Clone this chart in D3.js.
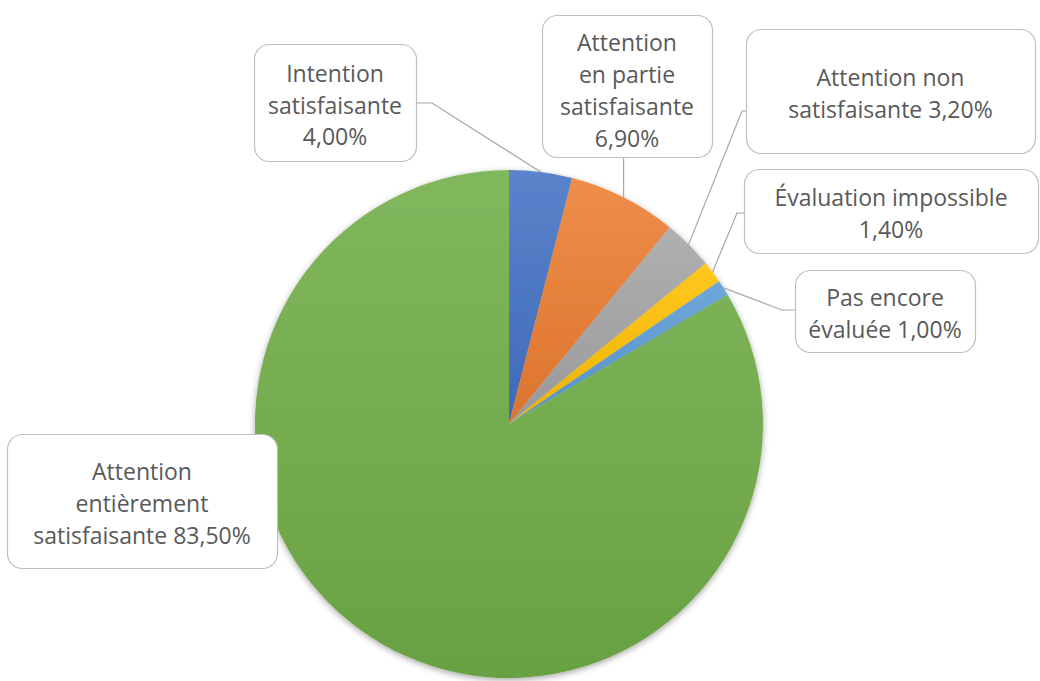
<!DOCTYPE html>
<html lang="fr">
<head>
<meta charset="utf-8">
<script src="https://cdn.jsdelivr.net/npm/d3@7"></script>
<style>
  html, body { margin: 0; padding: 0; background: #ffffff; }
  svg { display: block; }
  text { font-family: "Open Sans", "Noto Sans", sans-serif; fill: #595959; font-variant-ligatures: none; }
</style>
</head>
<body>
<svg id="chart" width="1040" height="681"></svg>
<script>
// Répartition des évaluations (en %)
const categories = [
  "Intention satisfaisante",
  "Attention en partie satisfaisante",
  "Attention non satisfaisante",
  "Évaluation impossible",
  "Pas encore évaluée",
  "Attention entièrement satisfaisante"
];
const values = [4.0, 6.9, 3.2, 1.4, 1.0, 83.5];
const colors = ["#4472c4", "#ed7d31", "#a5a5a5", "#ffc000", "#5b9bd5", "#70ad47"];
// Label text lines; "{v}" is replaced by the formatted value
const labelLines = [
  ["Intention", "satisfaisante", "{v}"],
  ["Attention", "en partie", "satisfaisante", "{v}"],
  ["Attention non", "satisfaisante {v}"],
  ["Évaluation impossible", "{v}"],
  ["Pas encore", "évaluée {v}"],
  ["Attention", "entièrement", "satisfaisante {v}"]
];

// Callout boxes: x, y, w, h, text offset, and the leader path from box edge to the slice
const boxes = [
  { x: 254, y: 44,  w: 162, h: 117, dy: 3, edge: [416, 103], elbow: [432, 103] },
  { x: 542, y: 15,  w: 170, h: 142, dy: 5, edge: null,       elbow: null, bottom: true },
  { x: 746, y: 29,  w: 289, h: 124, dy: 3, edge: [746, 111], elbow: [742, 111] },
  { x: 744, y: 169, w: 294, h: 84,  dy: 3, edge: [744, 213], elbow: [737, 213] },
  { x: 795, y: 270, w: 180, h: 82,  dy: 3, edge: [795, 310], elbow: [782, 310] },
  { x: 7,   y: 434, w: 270, h: 134, dy: 3, edge: null,       elbow: null }
];

const fmt = v => v.toFixed(2).replace(".", ",") + "%";

const svg = d3.select("#chart");
const cx = 509, cy = 424, R = 254;

const defs = svg.append("defs");
const shadow = defs.append("filter").attr("id", "pieShadow")
  .attr("x", "-10%").attr("y", "-10%").attr("width", "120%").attr("height", "120%");
shadow.append("feDropShadow")
  .attr("dx", 0).attr("dy", 2).attr("stdDeviation", 3)
  .attr("flood-color", "#000").attr("flood-opacity", 0.35);

colors.forEach((c, i) => {
  const g = defs.append("linearGradient").attr("id", "grad" + i)
    .attr("x1", 0).attr("y1", 0).attr("x2", 0).attr("y2", 1);
  g.append("stop").attr("offset", "0%").attr("stop-color", d3.interpolateRgb(c, "#ffffff")(0.12));
  g.append("stop").attr("offset", "100%").attr("stop-color", d3.interpolateRgb(c, "#000000")(0.07));
});

const pie = d3.pie().sort(null).value(d => d).startAngle(0).endAngle(2 * Math.PI);
const arcs = pie(values);
const arc = d3.arc().innerRadius(0).outerRadius(R);

const gPie = svg.append("g")
  .attr("transform", `translate(${cx},${cy})`)
  .attr("filter", "url(#pieShadow)");

gPie.selectAll("path.slice")
  .data(arcs)
  .join("path")
  .attr("class", "slice")
  .attr("d", arc)
  .attr("fill", (d, i) => `url(#grad${i})`);

// Leader lines
const lineGen = d3.line();
arcs.forEach((a, i) => {
  const b = boxes[i];
  const mid = (a.startAngle + a.endAngle) / 2;
  const px = cx + R * Math.sin(mid);
  const py = cy - R * Math.cos(mid);
  let pts = null;
  if (b.bottom) {
    pts = [[px, b.y + b.h], [px, py]];
  } else if (b.edge) {
    pts = [b.edge, b.elbow, [px, py]];
  }
  if (pts) {
    svg.append("path")
      .attr("d", lineGen(pts))
      .attr("fill", "none")
      .attr("stroke", "#a6a6a6")
      .attr("stroke-width", 1.2);
  }
});

// Callout boxes with text
const fontSize = 23, lineH = 31.7, capH = 16;
boxes.forEach((b, i) => {
  const g = svg.append("g");
  g.append("rect")
    .attr("x", b.x + 0.5).attr("y", b.y + 0.5)
    .attr("width", b.w).attr("height", b.h)
    .attr("rx", 15).attr("ry", 15)
    .attr("fill", "#ffffff")
    .attr("stroke", "#bfbfbf")
    .attr("stroke-width", 1.2);
  const lines = labelLines[i].map(s => s.replace("{v}", fmt(values[i])));
  const n = lines.length;
  const centerY = b.y + b.h / 2 + b.dy;
  const firstBase = centerY - ((n - 1) * lineH + capH) / 2 + capH;
  const t = g.append("text")
    .attr("text-anchor", "middle")
    .attr("font-size", fontSize);
  lines.forEach((s, k) => {
    t.append("tspan")
      .attr("x", b.x + b.w / 2)
      .attr("y", firstBase + k * lineH)
      .text(s);
  });
});
</script>
</body>
</html>
